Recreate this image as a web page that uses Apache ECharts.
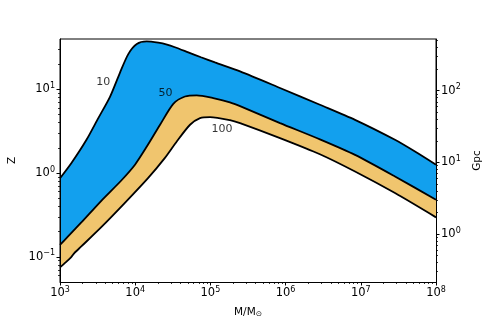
<!DOCTYPE html>
<html>
<head>
<meta charset="utf-8">
<script src="https://cdn.jsdelivr.net/npm/echarts@6/dist/echarts.min.js"></script>
<style>
html,body{margin:0;padding:0;background:#fff;}
#chart{width:485px;height:323px;}
</style>
</head>
<body>
<div id="chart"></div>
<script>
// ---- data ----
const mass10 = [1e3, 1.42e3, 2.25e3, 3.23e3, 4.62e3, 6.28e3, 8.09e3, 1.05e4, 1.42e4, 2.03e4, 2.65e4, 3.38e4, 5.08e4, 7.50e4, 1.15e5, 2.48e5, 8.43e5, 2.86e6, 8.38e6, 2.85e7, 5.26e7, 1e8];
const z10    = [0.867, 1.32, 2.50, 4.54, 8.16, 15.9, 26.4, 34.8, 37.4, 36.1, 34.3, 31.9, 27.7, 24.2, 21.0, 16.4, 10.4, 6.55, 4.33, 2.50, 1.81, 1.26];

const mass50 = [1e3, 1.28e3, 1.92e3, 3.54e3, 6.53e3, 9.93e3, 1.42e4, 2.14e4, 3.21e4, 4.59e4, 6.58e4, 1.09e5, 1.82e5, 2.48e5, 8.43e5, 2.86e6, 8.38e6, 2.85e7, 1e8];
const z50    = [0.139, 0.175, 0.257, 0.467, 0.816, 1.26, 2.06, 3.78, 6.73, 8.23, 8.50, 7.87, 7.00, 6.31, 3.96, 2.53, 1.65, 0.911, 0.480];

const mass100 = [1e3, 1.20e3, 1.41e3, 1.54e3, 1.92e3, 3.54e3, 7.24e3, 1.48e4, 2.47e4, 3.57e4, 5.36e4, 7.28e4, 9.89e4, 1.82e5, 2.48e5, 8.43e5, 2.86e6, 8.38e6, 2.85e7, 1e8];
const z100    = [0.0749, 0.0864, 0.0992, 0.110, 0.133, 0.226, 0.438, 0.871, 1.51, 2.39, 3.78, 4.54, 4.67, 4.30, 3.96, 2.62, 1.68, 1.045, 0.577, 0.296];

const contourNames = ['10', '50', '100'];
const contourLabelMass = [3.77e3, 2.53e4, 1.43e5];
const contourLabelZ = [12.3, 8.93, 3.38];

const xMajorTicks = [1e3, 1e4, 1e5, 1e6, 1e7, 1e8];
const zMajorTicks = [0.1, 1, 10];
const gpcMajorTicks = [1, 10, 100];
const xMinorTicks = [];
for (let k = 3; k <= 7; k++) for (let m = 2; m <= 9; m++) xMinorTicks.push(m * Math.pow(10, k));
const zMinorTicks = [0.06, 0.07, 0.08, 0.09, 0.2, 0.3, 0.4, 0.5, 0.6, 0.7, 0.8, 0.9, 2, 3, 4, 5, 6, 7, 8, 9, 20, 30];
const gpcMinorTicks = [0.3, 0.4, 0.5, 0.6, 0.7, 0.8, 0.9, 2, 3, 4, 5, 6, 7, 8, 9, 20, 30, 40, 50, 60, 70, 80, 90, 200, 300, 400, 500];

const FONT = 'DejaVu Sans';
const BLUE = '#12a0ee';
const ORANGE = '#f0c56e';

function zip(a, b) { return a.map((v, i) => [v, b[i]]); }
function powLabel(v) {
  const e = Math.round(Math.log10(v));
  const es = e < 0 ? '\u2212' + (-e) : String(e);
  return '{b|10}{s|' + es + '}';
}
const richPow = {
  b: { fontSize: 11.5, fontFamily: FONT, color: '#000', lineHeight: 15 },
  s: { fontSize: 8, fontFamily: FONT, color: '#000', verticalAlign: 'top', lineHeight: 9 }
};

const chart = echarts.init(document.getElementById('chart'), null, { renderer: 'canvas' });

function curve(name, xs, ys, fill) {
  return {
    type: 'line', name: name, data: zip(xs, ys), xAxisIndex: 0, yAxisIndex: 0,
    showSymbol: false, symbol: 'none', smooth: 0.25,
    lineStyle: { color: '#000', width: 1.8 },
    areaStyle: { color: fill, opacity: 1, origin: 'start' },
    silent: true, animation: false
  };
}

const option = {
  animation: false,
  backgroundColor: '#fff',
  grid: { left: 60, right: 49, top: 39, bottom: 41, containLabel: false, outerBoundsMode: 'none',
          show: true, borderColor: '#000', borderWidth: 1, backgroundColor: 'transparent' },
  xAxis: [
    {
      type: 'log', logBase: 10, min: 1e3, max: 1e8, position: 'bottom', z: 5,
      name: 'M/M{sub|\u2299}', nameLocation: 'middle', nameGap: 25,
      nameTextStyle: { fontSize: 10.5, fontFamily: FONT, color: '#000',
        rich: { sub: { fontSize: 7.5, fontFamily: FONT, color: '#000', verticalAlign: 'bottom', lineHeight: 9 } } },
      axisLine: { show: true, lineStyle: { color: '#000', width: 1 } },
      axisTick: { show: true, inside: false, length: 3.5, lineStyle: { color: '#000', width: 1 }, customValues: xMajorTicks },
      axisLabel: { show: true, margin: 4, formatter: powLabel, rich: richPow, customValues: xMajorTicks },
      splitLine: { show: false }, minorTick: { show: false }
    },
    {
      type: 'log', logBase: 10, min: 1e3, max: 1e8, position: 'bottom', z: 5,
      axisLine: { show: false },
      axisTick: { show: true, length: 2, lineStyle: { color: '#000', width: 0.8 }, customValues: xMinorTicks },
      axisLabel: { show: false }, splitLine: { show: false }
    }
  ],
  yAxis: [
    {
      type: 'log', logBase: 10, min: 0.05, max: 40, position: 'left', z: 5,
      name: 'Z', nameLocation: 'middle', nameGap: 38, nameRotate: 90,
      nameTextStyle: { fontSize: 10.5, fontFamily: FONT, color: '#000' },
      axisLine: { show: true, lineStyle: { color: '#000', width: 1 } },
      axisTick: { show: true, length: 3.5, lineStyle: { color: '#000', width: 1 }, customValues: zMajorTicks },
      axisLabel: { show: true, margin: 5, formatter: powLabel, rich: richPow, customValues: zMajorTicks },
      splitLine: { show: false }
    },
    {
      type: 'log', logBase: 10, min: 0.214, max: 527, position: 'right', z: 5,
      name: 'Gpc', nameLocation: 'middle', nameGap: 26, nameRotate: 90,
      nameTextStyle: { fontSize: 10.5, fontFamily: FONT, color: '#000' },
      axisLine: { show: true, lineStyle: { color: '#000', width: 1 } },
      axisTick: { show: true, length: 3.5, lineStyle: { color: '#000', width: 1 }, customValues: gpcMajorTicks },
      axisLabel: { show: true, margin: 5, formatter: powLabel, rich: richPow, customValues: gpcMajorTicks },
      splitLine: { show: false }
    },
    {
      type: 'log', logBase: 10, min: 0.05, max: 40, position: 'left', z: 5,
      axisLine: { show: false },
      axisTick: { show: true, length: 2, lineStyle: { color: '#000', width: 0.8 }, customValues: zMinorTicks },
      axisLabel: { show: false }, splitLine: { show: false }
    },
    {
      type: 'log', logBase: 10, min: 0.214, max: 527, position: 'right', z: 5,
      axisLine: { show: false },
      axisTick: { show: true, length: 2, lineStyle: { color: '#000', width: 0.8 }, customValues: gpcMinorTicks },
      axisLabel: { show: false }, splitLine: { show: false }
    }
  ],
  series: [
    curve('10', mass10, z10, BLUE),
    curve('50', mass50, z50, ORANGE),
    curve('100', mass100, z100, '#ffffff'),
    {
      type: 'scatter', xAxisIndex: 0, yAxisIndex: 0, symbolSize: 0, silent: true, z: 6,
      data: contourNames.map((n, i) => ({ value: [contourLabelMass[i], contourLabelZ[i]], name: n })),
      label: { show: true, position: 'inside', formatter: p => p.name, fontSize: 11, fontFamily: FONT, color: '#000' }
    }
  ]
};
chart.setOption(option);
</script>
</body>
</html>
